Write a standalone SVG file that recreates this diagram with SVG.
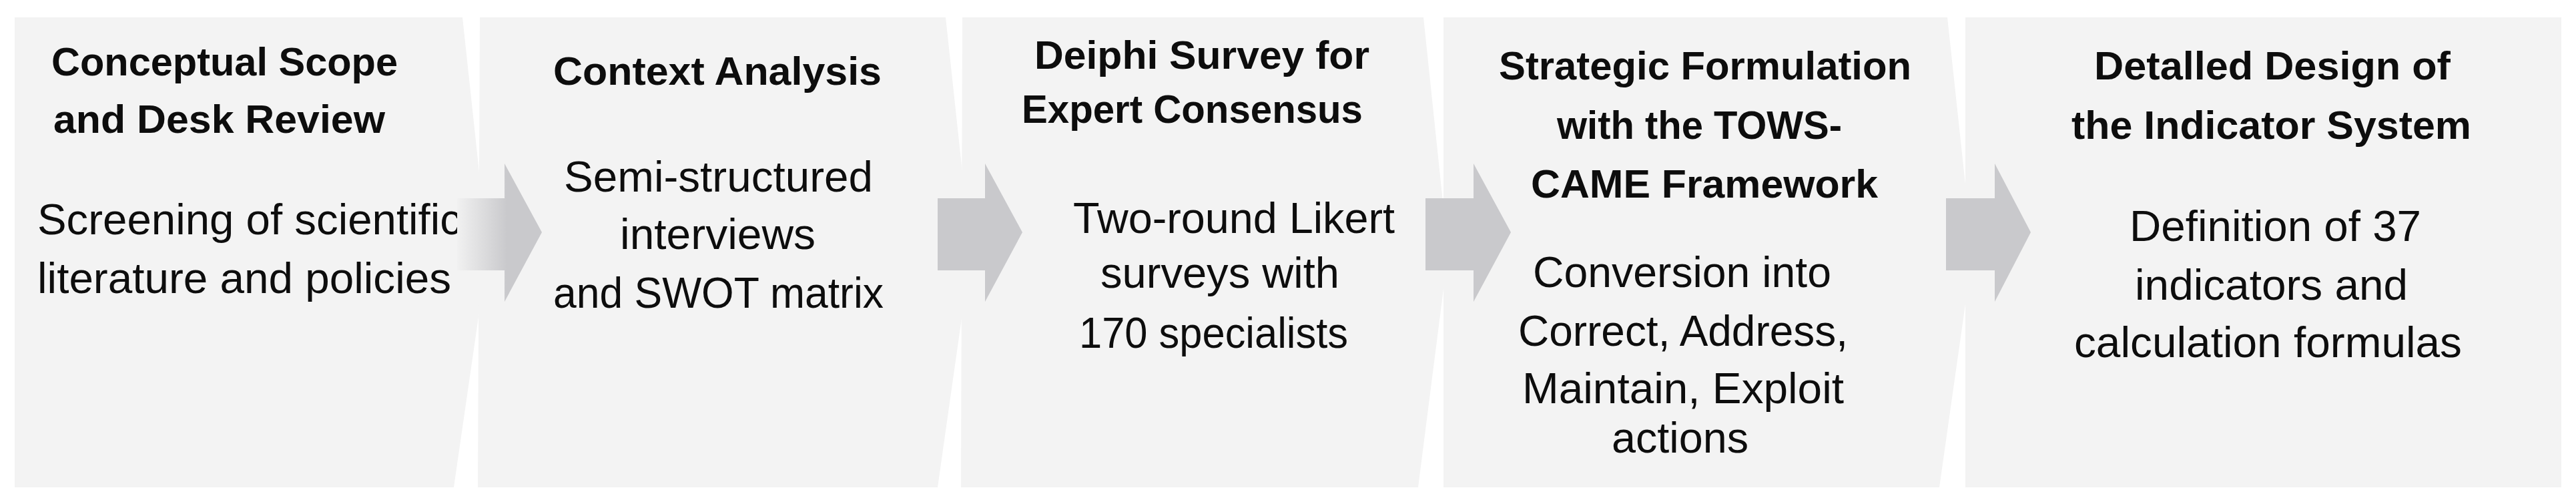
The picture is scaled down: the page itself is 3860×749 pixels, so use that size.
<svg xmlns="http://www.w3.org/2000/svg" width="3860" height="749" viewBox="0 0 3860 749">
  <style>
    .panel { fill: #f3f3f3; stroke: none; }
    .arrow { fill: #c9c9cc; stroke: none; }
    .title { font-family: "Liberation Sans", Arial, sans-serif; font-weight: bold; font-size: 59px; fill: #0d0d0d; }
    .body { font-family: "Liberation Sans", Arial, sans-serif; font-size: 65px; fill: #0d0d0d; }
  </style>
  <defs>
    <linearGradient id="fadeShaft" gradientUnits="userSpaceOnUse" x1="685" y1="0" x2="760" y2="0">
      <stop offset="0" stop-color="#f1f1f1"/>
      <stop offset="1" stop-color="#c9c9cc"/>
    </linearGradient>
  </defs>
  <rect x="0" y="0" width="3860" height="749" fill="#ffffff"/>

  <g id="node-1">
    <path class="panel" d="M22,26 L693,26 L731,378 L680,730 L22,730 Z"/>
    <text class="title" x="77" y="113" textLength="519" lengthAdjust="spacingAndGlyphs">Conceptual Scope</text>
    <text class="title" x="80" y="199" textLength="497" lengthAdjust="spacingAndGlyphs">and Desk Review</text>
    <text class="body" x="56" y="351" textLength="636" lengthAdjust="spacingAndGlyphs">Screening of scientific</text>
    <text class="body" x="56" y="439" textLength="620" lengthAdjust="spacingAndGlyphs">literature and policies</text>
  </g>

  <g id="node-2">
    <path class="panel" d="M719,26 L1417,26 L1455,378 L1405,730 L716,730 Z"/>
    <text class="title" x="829" y="127" textLength="492" lengthAdjust="spacingAndGlyphs">Context Analysis</text>
    <text class="body" x="845" y="287" textLength="463" lengthAdjust="spacingAndGlyphs">Semi-structured</text>
    <text class="body" x="929" y="373" textLength="293" lengthAdjust="spacingAndGlyphs">interviews</text>
    <text class="body" x="829" y="461" textLength="495" lengthAdjust="spacingAndGlyphs">and SWOT matrix</text>
  </g>

  <g id="node-3">
    <path class="panel" d="M1442,26 L2133,26 L2170,378 L2125,730 L1440,730 Z"/>
    <text class="title" x="1550" y="103" textLength="502" lengthAdjust="spacingAndGlyphs">Deiphi Survey for</text>
    <text class="title" x="1531" y="184" textLength="511" lengthAdjust="spacingAndGlyphs">Expert Consensus</text>
    <text class="body" x="1608" y="349" textLength="482" lengthAdjust="spacingAndGlyphs">Two-round Likert</text>
    <text class="body" x="1649" y="431" textLength="358" lengthAdjust="spacingAndGlyphs">surveys with</text>
    <text class="body" x="1617" y="521" textLength="403" lengthAdjust="spacingAndGlyphs">170 specialists</text>
  </g>

  <g id="node-4">
    <path class="panel" d="M2163,26 L2918,26 L2956,378 L2906,730 L2163,730 Z"/>
    <text class="title" x="2246" y="119" textLength="618" lengthAdjust="spacingAndGlyphs">Strategic Formulation</text>
    <text class="title" x="2333" y="208" textLength="427" lengthAdjust="spacingAndGlyphs">with the TOWS-</text>
    <text class="title" x="2294" y="296" textLength="520" lengthAdjust="spacingAndGlyphs">CAME Framework</text>
    <text class="body" x="2297" y="430" textLength="447" lengthAdjust="spacingAndGlyphs">Conversion into</text>
    <text class="body" x="2275" y="518" textLength="494" lengthAdjust="spacingAndGlyphs">Correct, Address,</text>
    <text class="body" x="2281" y="604" textLength="482" lengthAdjust="spacingAndGlyphs">Maintain, Exploit</text>
    <text class="body" x="2415" y="678" textLength="205" lengthAdjust="spacingAndGlyphs">actions</text>
  </g>

  <g id="node-5">
    <path class="panel" d="M2945,26 L3838,26 L3838,730 L2945,730 Z"/>
    <text class="title" x="3138" y="119" textLength="534" lengthAdjust="spacingAndGlyphs">Detalled Design of</text>
    <text class="title" x="3104" y="208" textLength="599" lengthAdjust="spacingAndGlyphs">the Indicator System</text>
    <text class="body" x="3191" y="361" textLength="437" lengthAdjust="spacingAndGlyphs">Definition of 37</text>
    <text class="body" x="3199" y="449" textLength="409" lengthAdjust="spacingAndGlyphs">indicators and</text>
    <text class="body" x="3108" y="535" textLength="581" lengthAdjust="spacingAndGlyphs">calculation formulas</text>
  </g>

  <g id="connectors">
    <path fill="url(#fadeShaft)" d="M685,297 L756,297 L756,245 L812,348 L756,452 L756,405 L685,405 Z"/>
    <path class="arrow" d="M1405,297 L1476,297 L1476,245 L1532,348 L1476,452 L1476,405 L1405,405 Z"/>
    <path class="arrow" d="M2136,297 L2208,297 L2208,245 L2264,348 L2208,452 L2208,405 L2136,405 Z"/>
    <path class="arrow" d="M2916,297 L2989,297 L2989,245 L3043,348 L2989,452 L2989,405 L2916,405 Z"/>
  </g>
</svg>
